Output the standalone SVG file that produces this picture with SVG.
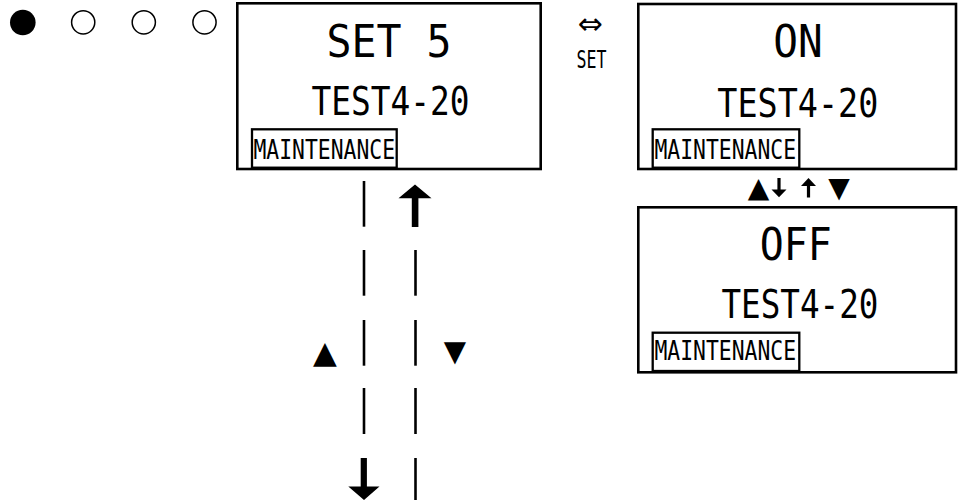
<svg xmlns="http://www.w3.org/2000/svg" width="960" height="502" viewBox="0 0 960 502">
<style>
.box{fill:#fff;stroke:#000;stroke-width:2.6}
.tag{fill:#fff;stroke:#000;stroke-width:2.3}
.t{font-family:"DejaVu Sans Mono","Liberation Mono",monospace;fill:#000}
.big{font-size:45px}
.mid{font-size:38.5px}
.sm{font-size:26px}
.sym{font-family:"DejaVu Sans","Liberation Sans",sans-serif;fill:#000}
.dash{stroke:#000;stroke-width:2.6;fill:none}
</style>
<rect width="960" height="502" fill="#fff"/>
<g id="indicator">
<circle cx="22.8" cy="22.5" r="12.8" fill="#000"/>
<circle cx="83.2" cy="22.3" r="11.6" fill="none" stroke="#000" stroke-width="1.5"/>
<circle cx="143.8" cy="22.3" r="11.6" fill="none" stroke="#000" stroke-width="1.5"/>
<circle cx="204.5" cy="22.3" r="11.6" fill="none" stroke="#000" stroke-width="1.5"/>
</g>
<g id="screen-set5">
<rect class="box" x="237.3" y="3.3" width="303.4" height="165.7"/>
<text class="t big" x="389" y="56.5" text-anchor="middle" textLength="125" lengthAdjust="spacingAndGlyphs">SET 5</text>
<text class="t mid" x="390.5" y="115" text-anchor="middle" textLength="158" lengthAdjust="spacingAndGlyphs">TEST4-20</text>
<rect class="tag" x="252" y="129.3" width="144.7" height="38.4"/>
<text class="t sm" x="253.5" y="159.3" textLength="141.5" lengthAdjust="spacingAndGlyphs">MAINTENANCE</text>
</g>
<g id="set-key">
<text class="sym" x="590" y="33.5" font-size="30" text-anchor="middle">⇔</text>
<text class="t" x="591.5" y="68.3" font-size="25" text-anchor="middle" textLength="30" lengthAdjust="spacingAndGlyphs">SET</text>
</g>
<g id="screen-on">
<rect class="box" x="638.3" y="4" width="317.7" height="165"/>
<text class="t big" x="798" y="56.7" text-anchor="middle" textLength="49.5" lengthAdjust="spacingAndGlyphs">ON</text>
<text class="t mid" x="797.8" y="116.5" text-anchor="middle" textLength="161" lengthAdjust="spacingAndGlyphs">TEST4-20</text>
<rect class="tag" x="652.7" y="129.3" width="146.6" height="38.4"/>
<text class="t sm" x="654.5" y="159.3" textLength="141.5" lengthAdjust="spacingAndGlyphs">MAINTENANCE</text>
</g>
<g id="screen-off">
<rect class="box" x="638.3" y="207.3" width="317.7" height="165"/>
<text class="t big" x="795.8" y="260" text-anchor="middle" textLength="72" lengthAdjust="spacingAndGlyphs">OFF</text>
<text class="t mid" x="800" y="318.3" text-anchor="middle" textLength="157" lengthAdjust="spacingAndGlyphs">TEST4-20</text>
<rect class="tag" x="652.7" y="332.7" width="146.6" height="38.3"/>
<text class="t sm" x="654.5" y="360.3" textLength="141.5" lengthAdjust="spacingAndGlyphs">MAINTENANCE</text>
</g>
<g id="connectors">
<g id="on-off-keys">
<text class="sym" x="758.5" y="197" font-size="28" text-anchor="middle">▲</text>
<path d="M777.4 178 H780.6 V189.5 H786.5 L779 197.3 L771.5 189.5 H777.4 Z" fill="#000"/>
<path d="M806.9 197.5 H810.1 V186 H816 L808.5 178 L801 186 H806.9 Z" fill="#000"/>
<text class="sym" x="839" y="197" font-size="28" text-anchor="middle">▼</text>
</g>
<g id="down-path">
<line class="dash" x1="364" y1="181" x2="364" y2="226.7"/>
<line class="dash" x1="364" y1="250" x2="364" y2="295.7"/>
<line class="dash" x1="364" y1="320" x2="364" y2="365.7"/>
<line class="dash" x1="364" y1="388" x2="364" y2="434"/>
<path d="M360.7 458 H366.9 V486.5 H379.5 L364 500 L348.3 486.5 H360.7 Z" fill="#000"/>
<text class="sym" x="325" y="363" font-size="31" text-anchor="middle">▲</text>
</g>
<g id="up-path">
<path d="M411.8 227 H418.4 V198.3 H431.5 L415 184.5 L398.5 198.3 H411.8 Z" fill="#000"/>
<line class="dash" x1="415.5" y1="250" x2="415.5" y2="295.7"/>
<line class="dash" x1="415.5" y1="320" x2="415.5" y2="365.7"/>
<line class="dash" x1="415.5" y1="388" x2="415.5" y2="434"/>
<line class="dash" x1="415.5" y1="458" x2="415.5" y2="500"/>
<text class="sym" x="455" y="361" font-size="29" text-anchor="middle">▼</text>
</g>
</g>
</svg>
